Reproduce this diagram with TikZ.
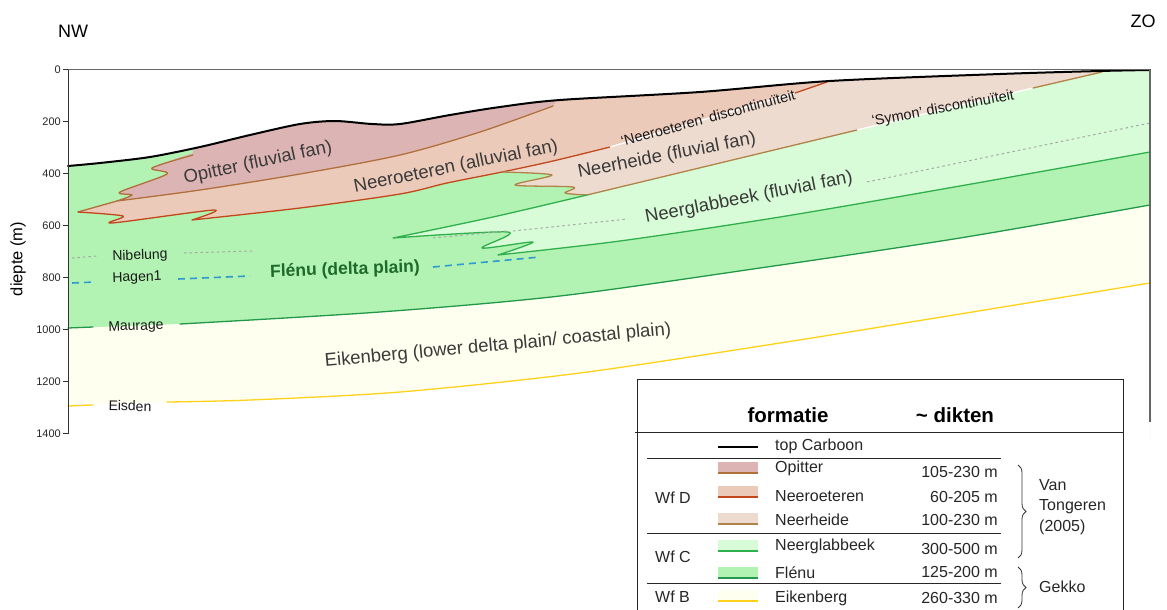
\documentclass[tikz,border=0pt]{standalone}
\usepackage{fontspec}
\setmainfont{Liberation Sans}
\usepackage{xcolor}
\usepackage{tikz}
\usetikzlibrary{
decorations.pathreplacing
}
\definecolor{opitfill}{HTML}{DDB4B4}
\definecolor{neerofill}{HTML}{ECCAB9}
\definecolor{neerhfill}{HTML}{EEDBD0}
\definecolor{glabfill}{HTML}{D8FCD8}
\definecolor{flenufill}{HTML}{B2F2B2}
\definecolor{eikenfill}{HTML}{FFFFF0}
\definecolor{opitline}{HTML}{B0703C}
\definecolor{neeroline}{HTML}{C2471C}
\definecolor{neerhline}{HTML}{B08448}
\definecolor{glabline}{HTML}{30B04C}
\definecolor{flenuline}{HTML}{22984A}
\definecolor{eisdenline}{HTML}{FFD11A}
\definecolor{hagenblue}{HTML}{2E9AD0}
\definecolor{axisgrey}{HTML}{666666}
\definecolor{txtgrey}{HTML}{3A3A3A}
\definecolor{flenutext}{HTML}{1D6A2A}

\begin{document}
\begin{tikzpicture}[
  x=1pt, y=-1pt,
  every node/.style={inner sep=0pt},
  unitlabel/.style={font=\fontsize{18.5}{20}\selectfont, text=txtgrey},
  disclabel/.style={font=\fontsize{14.5}{16}\selectfont, text=black!90},
  welllabel/.style={font=\fontsize{14}{16}\selectfont, text=black!90},
  ticklabel/.style={font=\fontsize{11}{13}\selectfont, text=black!85, anchor=east},
  legtext/.style={font=\fontsize{16}{20.5}\selectfont, text=black!85},
  leghead/.style={font=\bfseries\fontsize{20.5}{24}\selectfont, text=black},
  boundary/.style={line width=1.3pt, line join=round, line cap=round},
  nibelung/.style={gray!70, line width=1pt, dash pattern=on 2.5pt off 3pt},
  hagen/.style={hagenblue, line width=1.6pt, dash pattern=on 7pt off 5pt},
  sepline/.style={black!85, line width=0.9pt}
]
\useasboundingbox (0,0) rectangle (1167,610);

%% ── FILLS (everything below top Carboon) ───────────────────────
\begin{scope}
\clip plot[smooth] coordinates {(68,166) (100,163) (150,157) (200,147) (250,135)
  (300,124) (335,121) (372,124) (400,124) (450,115) (500,107) (560,100)
  (700,92) (830,81) (1000,74) (1100,71) (1150,70)}
  -- (1150,440) -- (68,440) -- cycle;

% Flénu everywhere, then Eikenberg below Maurage, blank below Eisden
\fill[flenufill] (60,60) rectangle (1160,440);
\fill[eikenfill] plot[smooth] coordinates {(68,328) (200,323) (380,312) (560,296)
  (760,268) (960,238) (1150,205)} -- (1160,205) -- (1160,440) -- (68,440) -- cycle;
\fill[white] plot[smooth] coordinates {(68,405) (250,400) (400,392) (580,373)
  (780,343) (960,314) (1150,283)} -- (1160,283) -- (1160,440) -- (68,440) -- cycle;

% Neerglabbeek tongue
\fill[glabfill] plot[smooth] coordinates {(393,238) (493,217) (587,195)}
  -- (1102,72) -- (1160,60) -- (1160,152)
  -- plot[smooth] coordinates {(1150,152) (960,186) (780,217) (620,241) (498,255)}
  -- plot[smooth, tension=.5] coordinates {(498,255) (533,242) (482,248) (508,232) (393,238)}
  -- cycle;

% Neerheide
\fill[neerhfill] plot[smooth, tension=.5] coordinates {(502,172) (552,175) (515,185)
  (573,187) (565,193) (587,195)} -- (1102,72) -- (1102,40) -- (502,40) -- cycle;

% Neeroeteren
\fill[neerofill] (78,212) -- (117,201)
  -- plot[smooth] coordinates {(117,201) (200,190) (300,174) (400,155) (480,132) (555,104)}
  -- (555,40) -- (827,40) -- (827,82) -- (610,147)
  -- plot[smooth] coordinates {(610,147) (553,161) (502,172) (447,183) (400,194)
     (300,208) (192,220)}
  -- plot[smooth, tension=.5] coordinates {(192,220) (214,210) (112,223) (123,216) (78,212)}
  -- cycle;

% Opitter
\fill[opitfill] plot[smooth, tension=.5] coordinates {(193,153) (152,168) (167,174)
  (120,192) (132,195) (117,201)}
  -- plot[smooth] coordinates {(117,201) (200,190) (300,174) (400,155) (480,132) (555,104)}
  -- (555,40) -- (193,40) -- cycle;
\end{scope}

%% ── FORMATION BOUNDARIES ───────────────────────────────────────
% Opitter
\draw[boundary, opitline] plot[smooth, tension=.5] coordinates {(193,155) (152,168)
  (167,174) (120,192) (132,195) (117,201)}
  -- plot[smooth] coordinates {(117,201) (200,190) (300,174) (400,155) (480,132) (553,106)};
\draw[boundary, opitline] (78,212) -- (117,201);

% Neeroeteren + its discontinuity
\draw[boundary, neeroline] plot[smooth, tension=.5] coordinates {(78,212) (123,216)
  (112,223) (214,210) (192,220)}
  -- plot[smooth] coordinates {(192,220) (300,208) (400,194) (447,183) (502,172)
  (553,161) (610,147)};
\draw[white, line width=1.3pt] (610,147) -- (795,93);
\draw[boundary, neeroline] (795,93) -- (827,82);

% Neerheide + Symon discontinuity
\draw[boundary, neerhline] plot[smooth, tension=.5] coordinates {(502,172) (552,175)
  (515,185) (573,187) (565,193) (587,195)} -- (857,130);
\draw[white, line width=1.3pt] (857,130) -- (1033,88);
\draw[boundary, neerhline] (1033,88) -- (1102,72);

% Neerglabbeek
\draw[boundary, glabline] plot[smooth] coordinates {(587,195) (493,217) (393,238)}
  -- plot[smooth, tension=.5] coordinates {(393,238) (508,232) (482,248) (533,242) (498,255)}
  -- plot[smooth] coordinates {(498,255) (620,241) (780,217) (960,186) (1150,152)};

% Maurage (base Flénu) and Eisden (base Eikenberg)
\draw[boundary, flenuline] (68,328) -- (93,327);
\draw[boundary, flenuline] plot[smooth] coordinates {(180,324) (380,312) (560,296)
  (760,268) (960,238) (1150,205)};
\draw[boundary, eisdenline] (68,406) -- (93,405);
\draw[boundary, eisdenline] plot[smooth] coordinates {(167,402) (250,400) (400,392)
  (580,373) (780,343) (960,314) (1150,283)};

% marker horizons
\draw[nibelung] (72,258) -- (97,256);
\draw[nibelung] (184,253) -- (252,251);
\draw[nibelung] (433,238) -- (507,231);
\draw[nibelung] (513,231) -- (628,219);
\draw[nibelung] (867,182) -- (1150,123);
\draw[hagen] (72,283) -- (95,282);
\draw[hagen] (178,279) -- (250,276);
\draw[hagen] (433,267) -- (540,257);

% top Carboon
\draw[black, line width=2pt, line cap=round] plot[smooth] coordinates {(68,166) (100,163)
  (150,157) (200,147) (250,135) (300,124) (335,121) (372,124) (400,124) (450,115)
  (500,107) (560,100) (700,92) (830,81) (1000,74) (1100,71) (1150,70)};

%% ── AXES ───────────────────────────────────────────────────────
\draw[axisgrey, line width=1pt] (68,70) -- (1150,70);
\draw[axisgrey, line width=1.2pt] (1150,70) -- (1150,422);
\draw[black!80, line width=1pt] (68,70) -- (68,434);
\foreach \d in {0,200,...,1400}{
  \draw[black!80, line width=1pt] (63,{70+0.26*\d}) -- (68,{70+0.26*\d});
  \node[ticklabel] (tick\d) at (61,{70+0.26*\d}) {\d};
}
\node[rotate=90, font=\fontsize{16.5}{18}\selectfont] (ylab) at (18,259) {diepte (m)};
\node[font=\fontsize{18}{20}\selectfont] (nw) at (73,31) {NW};
\node[font=\fontsize{18}{20}\selectfont] (zo) at (1143,21) {ZO};

%% ── UNIT LABELS ────────────────────────────────────────────────
\node[unitlabel, rotate=12] (lopit) at (258,163) {Opitter (fluvial fan)};
\node[unitlabel, rotate=11.5] (lneero) at (456,167) {Neeroeteren (alluvial fan)};
\node[unitlabel, rotate=11] (lneerh) at (667,156) {Neerheide (fluvial fan)};
\node[unitlabel, rotate=11] (lglab) at (749,198) {Neerglabbeek (fluvial fan)};
\node[font=\bfseries\fontsize{17.5}{20}\selectfont, text=flenutext, rotate=2]
  (lflenu) at (345,270) {Flénu (delta plain)};
\node[unitlabel, rotate=5.3] (leiken) at (498,346)
  {Eikenberg (lower delta plain/ coastal plain)};
\node[disclabel, rotate=15] (dneero) at (708,118) {‘Neeroeteren’ discontinuïteit};
\node[disclabel, rotate=10.6] (dsymon) at (943,109) {‘Symon’ discontinuïteit};

\node[welllabel, rotate=2] (wnib) at (140,256) {Nibelung};
\node[welllabel, rotate=2] (whag) at (137,278) {Hagen1};
\node[welllabel, rotate=2] (wmau) at (136,327) {Maurage};
\node[welllabel, rotate=-1] (weis) at (130,406) {Eisden};

%% ── LEGEND ─────────────────────────────────────────────────────
\draw[black!85, line width=1pt] (637,615) -- (637,379) -- (1123,379) -- (1123,615);
\draw[black!85, line width=1pt] (635,432) -- (1123,432);
\node[leghead] (hform) at (788,415) {formatie};
\node[leghead] (hdik) at (955,415) {\textasciitilde{} dikten};

\draw[black, line width=2pt] (718,447) -- (758,447);
\node[legtext, anchor=west] (ltop) at (775,446) {top Carboon};

\foreach \yt/\fc/\lc [count=\i] in {462/opitfill/opitline, 486/neerofill/neeroline,
    513/neerhfill/neerhline, 540/glabfill/glabline, 567/flenufill/flenuline,
    590/eikenfill/eisdenline}{
  \fill[\fc] (718,\yt) rectangle (758,{\yt+11});
  \draw[\lc, line width=1.6pt] (718,{\yt+11}) -- (758,{\yt+11});
}
\foreach \nm/\yn/\dk/\yd [count=\i] in {Opitter/468/105-230 m/472,
    Neeroeteren/496/60-205 m/497, Neerheide/520/100-230 m/520,
    Neerglabbeek/546/300-500 m/549, Flénu/573/125-200 m/572,
    Eikenberg/598/260-330 m/598}{
  \node[legtext, anchor=west] (leg\i) at (775,\yn) {\nm};
  \node[legtext, anchor=east] (dik\i) at (998,\yd) {\dk};
}
\foreach \ys in {458,533,583}{
  \draw[sepline] (647,\ys) -- (1001,\ys);
}
\node[legtext, anchor=west] (wfd) at (655,498) {Wf D};
\node[legtext, anchor=west] (wfc) at (655,557) {Wf C};
\node[legtext, anchor=west] (wfb) at (655,597) {Wf B};

\draw[black!80, line width=0.8pt, decorate, decoration={brace, amplitude=8pt}]
  (1018,465) -- (1018,558);
\draw[black!80, line width=0.8pt, decorate, decoration={brace, amplitude=8pt}]
  (1018,567) -- (1018,608);
\node[legtext, anchor=west, align=left] (vt) at (1039,507) {Van\\Tongeren\\(2005)};
\node[legtext, anchor=west] (gekko) at (1039,587) {Gekko};

\end{tikzpicture}
\end{document}
